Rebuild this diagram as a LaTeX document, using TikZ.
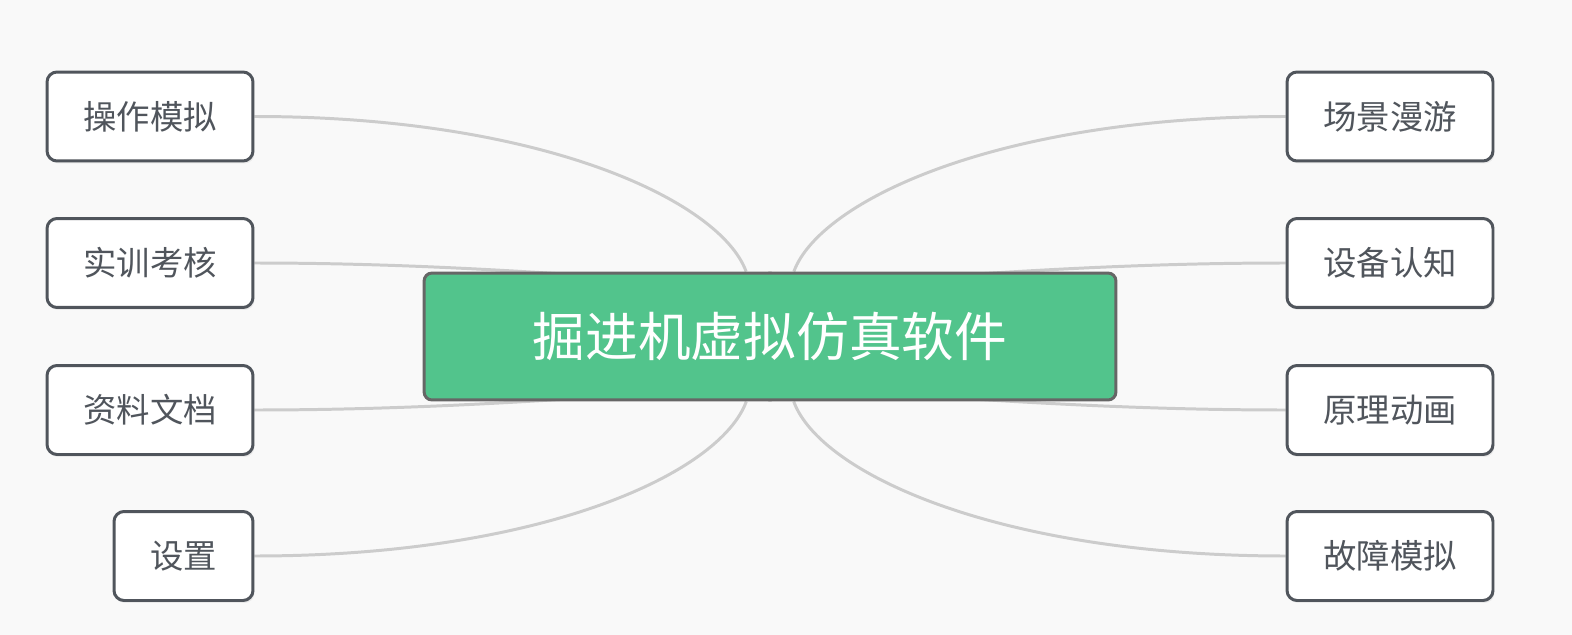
\documentclass[tikz,border=0pt]{standalone}
\usepackage{fontspec}
\setmainfont{Noto Sans CJK SC}
\usepackage{xcolor}
\usetikzlibrary{shadows}
\definecolor{bgcol}{RGB}{249,249,249}
\definecolor{linkcol}{RGB}{204,204,204}
\definecolor{leafcol}{RGB}{80,85,92}
\definecolor{rootcol}{RGB}{82,196,140}
\definecolor{rootline}{RGB}{102,102,102}
\pgfdeclarelayer{bg}
\pgfsetlayers{bg,main}

\begin{document}
\begin{tikzpicture}[x=0.02cm, y=-0.02cm,
  leaf/.style={rectangle, rounded corners=0.2cm, draw=leafcol, line width=1.7pt, fill=white,
    text=leafcol, minimum width=4.12cm, minimum height=1.78cm, inner sep=0pt,
    font=\fontsize{19}{22}\selectfont,
    drop shadow={opacity=0.12, shadow xshift=0.03cm, shadow yshift=-0.05cm}},
  root/.style={rectangle, rounded corners=0.16cm, draw=rootline, line width=1.7pt, fill=rootcol,
    text=white, minimum width=13.84cm, minimum height=2.54cm, inner sep=0pt,
    font=\fontsize{30}{34}\selectfont},
  link/.style={draw=linkcol, line width=1.7pt}]
\useasboundingbox (0,0) rectangle (1572,635);
\begin{pgfonlayer}{bg}
\fill[bgcol] (0,0) rectangle (1572,635);
\end{pgfonlayer}
\node[root] (root) at (770,336.5) {掘进机虚拟仿真软件};
\node[leaf] (l1) at (150,116.5) {操作模拟};
\node[leaf] (l2) at (150,263) {实训考核};
\node[leaf] (l3) at (150,410) {资料文档};
\node[leaf, minimum width=2.78cm] (l4) at (183.5,556) {设置};
\node[leaf] (r1) at (1390,116.5) {场景漫游};
\node[leaf] (r2) at (1390,263) {设备认知};
\node[leaf] (r3) at (1390,410) {原理动画};
\node[leaf] (r4) at (1390,556) {故障模拟};
\begin{pgfonlayer}{bg}
\draw[link] (l1.east) .. controls +(287,0) and +(-50,-136) .. (root);
\draw[link] (l2.east) .. controls +(307,0) and +(0,-36) .. (root);
\draw[link] (l3.east) .. controls +(307,0) and +(0,37) .. (root);
\draw[link] (l4.east) .. controls +(287,0) and +(-50,137) .. (root);
\draw[link] (r1.west) .. controls +(-287,0) and +(50,-136) .. (root);
\draw[link] (r2.west) .. controls +(-307,0) and +(0,-36) .. (root);
\draw[link] (r3.west) .. controls +(-307,0) and +(0,37) .. (root);
\draw[link] (r4.west) .. controls +(-287,0) and +(50,137) .. (root);
\end{pgfonlayer}
\end{tikzpicture}
\end{document}
